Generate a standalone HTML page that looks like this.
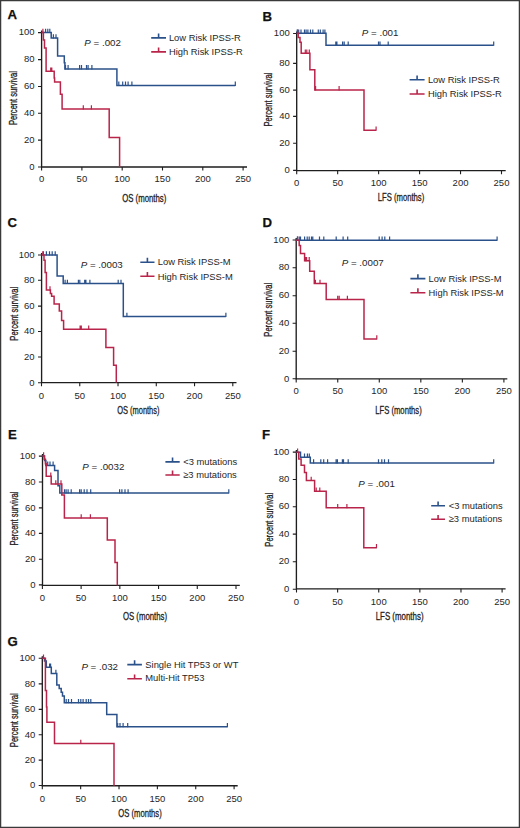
<!DOCTYPE html>
<html><head><meta charset="utf-8"><style>
html,body{margin:0;padding:0;background:#fff;}
body{width:520px;height:828px;overflow:hidden;position:relative;}
svg{position:absolute;left:0;top:0;font-family:"Liberation Sans", sans-serif;}
</style></head><body>
<svg width="520" height="828" viewBox="0 0 520 828">
<rect x="0" y="0" width="520" height="828" fill="#fff"/>
<path d="M0.6 0V828 M519.4 0V828 M0 0.6H520 M0 827.4H520" stroke="#3a3a3a" stroke-width="1.3" fill="none"/>
<text transform="translate(7.4,19.2)" font-size="13.2" fill="#111" font-weight="bold" stroke="#111" stroke-width="0.25">A</text>
<path d="M41.6 30.6V167.6 M41 167H247" stroke="#1e1e1e" stroke-width="1.35" fill="none"/>
<path d="M38 167H41.6M38 140.1H41.6M38 113.3H41.6M38 86.5H41.6M38 59.6H41.6M38 32.6H41.6M41.6 167V170.6M81.9 167V170.6M122.2 167V170.6M162.5 167V170.6M202.8 167V170.6M243.1 167V170.6" stroke="#1e1e1e" stroke-width="1.1" fill="none"/>
<text transform="translate(34.6,169.7) scale(1,1.04)" font-size="9.5" text-anchor="end" fill="#262626">0</text>
<text transform="translate(34.6,142.8) scale(1,1.04)" font-size="9.5" text-anchor="end" fill="#262626">20</text>
<text transform="translate(34.6,116) scale(1,1.04)" font-size="9.5" text-anchor="end" fill="#262626">40</text>
<text transform="translate(34.6,89.2) scale(1,1.04)" font-size="9.5" text-anchor="end" fill="#262626">60</text>
<text transform="translate(34.6,62.3) scale(1,1.04)" font-size="9.5" text-anchor="end" fill="#262626">80</text>
<text transform="translate(34.6,35.3) scale(1,1.04)" font-size="9.5" text-anchor="end" fill="#262626">100</text>
<text transform="translate(41.6,182.3) scale(1,1.04)" font-size="9.5" text-anchor="middle" fill="#262626">0</text>
<text transform="translate(81.9,182.3) scale(1,1.04)" font-size="9.5" text-anchor="middle" fill="#262626">50</text>
<text transform="translate(122.2,182.3) scale(1,1.04)" font-size="9.5" text-anchor="middle" fill="#262626">100</text>
<text transform="translate(162.5,182.3) scale(1,1.04)" font-size="9.5" text-anchor="middle" fill="#262626">150</text>
<text transform="translate(202.8,182.3) scale(1,1.04)" font-size="9.5" text-anchor="middle" fill="#262626">200</text>
<text transform="translate(243.1,182.3) scale(1,1.04)" font-size="9.5" text-anchor="middle" fill="#262626">250</text>
<text transform="translate(144.2,201.9) scale(0.69,1)" font-size="11.3" text-anchor="middle" fill="#222" stroke="#222" stroke-width="0.3">OS (months)</text>
<text transform="translate(16.9,98) rotate(-90) scale(0.69,1)" font-size="11" text-anchor="middle" fill="#222" stroke="#222" stroke-width="0.3">Percent survival</text>
<path d="M151.2 37.9H166 M158.6 37.9V33.5" stroke="#2b518a" stroke-width="1.6" fill="none"/>
<text transform="translate(168.9,40.7)" font-size="9.4" fill="#262626">Low Risk IPSS-R</text>
<path d="M151.2 51.9H166 M158.6 51.9V47.5" stroke="#b9244a" stroke-width="1.6" fill="none"/>
<text transform="translate(168.9,54.5)" font-size="9.4" fill="#262626">High Risk IPSS-R</text>
<text transform="translate(84.3,46.3)" font-size="9.75" fill="#262626"><tspan font-style="italic">P</tspan> = .002</text>
<path d="M41.6 32.6H51.2V38H57.6V56.1H64.3V62.7H64.9V68.9H116.9V85.4H235.3" stroke="#2b518a" stroke-width="1.5" fill="none"/>
<path d="M45.6 33.1V28.8M47.8 33.1V28.8M49.8 33.1V28.8M53.4 38.5V34.2M56 38.5V34.2M65.5 69.4V65.1M68.1 69.4V65.1M79.6 69.4V65.1M81.5 69.4V65.1M86.5 69.4V65.1M88.1 69.4V65.1M91.9 69.4V65.1M118.8 85.9V81.6M122.7 85.9V81.6M125.5 85.9V81.6M128.1 85.9V81.6M131.9 85.9V81.6M235.3 85.9V81.6" stroke="#2b518a" stroke-width="1.2" fill="none"/>
<path d="M41.6 32.6H43.4V40H44.5V48H46.1V71.2H54.2V78H54.6V81.9H60.4V94.2H62.1V109.1H109.2V137.6H119.6V167" stroke="#b9244a" stroke-width="1.5" fill="none"/>
<path d="M42.9 33.1V28.8M50.7 71.7V67.4M51.8 71.7V67.4M83.3 109.6V105.3M91.4 109.6V105.3" stroke="#b9244a" stroke-width="1.2" fill="none"/>
<text transform="translate(262.4,20.8)" font-size="13.2" fill="#111" font-weight="bold" stroke="#111" stroke-width="0.25">B</text>
<path d="M296.7 31.5V171.2 M296.1 170.6H505.7" stroke="#1e1e1e" stroke-width="1.35" fill="none"/>
<path d="M293.1 170.4H296.7M293.1 143.3H296.7M293.1 116.4H296.7M293.1 90.1H296.7M293.1 63.4H296.7M293.1 33.5H296.7M296.7 170.6V174.2M337.66 170.6V174.2M378.62 170.6V174.2M419.58 170.6V174.2M460.54 170.6V174.2M501.5 170.6V174.2" stroke="#1e1e1e" stroke-width="1.1" fill="none"/>
<text transform="translate(289.7,173.1) scale(1,1.04)" font-size="9.5" text-anchor="end" fill="#262626">0</text>
<text transform="translate(289.7,146) scale(1,1.04)" font-size="9.5" text-anchor="end" fill="#262626">20</text>
<text transform="translate(289.7,119.1) scale(1,1.04)" font-size="9.5" text-anchor="end" fill="#262626">40</text>
<text transform="translate(289.7,92.8) scale(1,1.04)" font-size="9.5" text-anchor="end" fill="#262626">60</text>
<text transform="translate(289.7,66.1) scale(1,1.04)" font-size="9.5" text-anchor="end" fill="#262626">80</text>
<text transform="translate(289.7,36.2) scale(1,1.04)" font-size="9.5" text-anchor="end" fill="#262626">100</text>
<text transform="translate(296.7,186.4) scale(1,1.04)" font-size="9.5" text-anchor="middle" fill="#262626">0</text>
<text transform="translate(337.66,186.4) scale(1,1.04)" font-size="9.5" text-anchor="middle" fill="#262626">50</text>
<text transform="translate(378.62,186.4) scale(1,1.04)" font-size="9.5" text-anchor="middle" fill="#262626">100</text>
<text transform="translate(419.58,186.4) scale(1,1.04)" font-size="9.5" text-anchor="middle" fill="#262626">150</text>
<text transform="translate(460.54,186.4) scale(1,1.04)" font-size="9.5" text-anchor="middle" fill="#262626">200</text>
<text transform="translate(501.5,186.4) scale(1,1.04)" font-size="9.5" text-anchor="middle" fill="#262626">250</text>
<text transform="translate(401,201.4) scale(0.68,1)" font-size="11.3" text-anchor="middle" fill="#222" stroke="#222" stroke-width="0.3">LFS (months)</text>
<text transform="translate(272.4,99.6) rotate(-90) scale(0.69,1)" font-size="11" text-anchor="middle" fill="#222" stroke="#222" stroke-width="0.3">Percent survival</text>
<path d="M409.6 79.8H424.6 M417.1 79.8V75.4" stroke="#2b518a" stroke-width="1.6" fill="none"/>
<text transform="translate(427.9,82.7)" font-size="9.4" fill="#262626">Low Risk IPSS-R</text>
<path d="M409.6 94H424.6 M417.1 94V89.6" stroke="#b9244a" stroke-width="1.6" fill="none"/>
<text transform="translate(427.9,96.9)" font-size="9.4" fill="#262626">High Risk IPSS-R</text>
<text transform="translate(361.8,36)" font-size="9.75" fill="#262626"><tspan font-style="italic">P</tspan> = .001</text>
<path d="M296.7 33.3H326V45.3H493.7" stroke="#2b518a" stroke-width="1.5" fill="none"/>
<path d="M297.2 33.8V29.5M298.7 33.8V29.5M301 33.8V29.5M304.5 33.8V29.5M306.1 33.8V29.5M307.9 33.8V29.5M310.5 33.8V29.5M312.8 33.8V29.5M318.3 33.8V29.5M320.3 33.8V29.5M323.1 33.8V29.5M324.9 33.8V29.5M335.8 45.8V41.5M336.9 45.8V41.5M342.6 45.8V41.5M344.2 45.8V41.5M348.2 45.8V41.5M378.5 45.8V41.5M380 45.8V41.5M388.2 45.8V41.5M493.7 45.8V41.5" stroke="#2b518a" stroke-width="1.2" fill="none"/>
<path d="M296.7 33.3H298.2V37.5H300V42.3H301.2V53.3H309.9V69.8H314.8V89.9H364V130.2H376.1" stroke="#b9244a" stroke-width="1.5" fill="none"/>
<path d="M297.6 33.8V29.5M305.3 53.8V49.5M306.8 53.8V49.5M309.3 53.8V49.5M315.6 90.4V86.1M339.1 90.4V86.1M376.1 130.7V126.4" stroke="#b9244a" stroke-width="1.2" fill="none"/>
<text transform="translate(7.6,227.1)" font-size="13.2" fill="#111" font-weight="bold" stroke="#111" stroke-width="0.25">C</text>
<path d="M41.6 253V383.2 M41 382.6H236.5" stroke="#1e1e1e" stroke-width="1.35" fill="none"/>
<path d="M38 382.8H41.6M38 357H41.6M38 331.5H41.6M38 306.1H41.6M38 280.3H41.6M38 255H41.6M41.5 382.6V386.2M79.76 382.6V386.2M118.02 382.6V386.2M156.28 382.6V386.2M194.54 382.6V386.2M232.8 382.6V386.2" stroke="#1e1e1e" stroke-width="1.1" fill="none"/>
<text transform="translate(34.6,385.5) scale(1,1.04)" font-size="9.5" text-anchor="end" fill="#262626">0</text>
<text transform="translate(34.6,359.7) scale(1,1.04)" font-size="9.5" text-anchor="end" fill="#262626">20</text>
<text transform="translate(34.6,334.2) scale(1,1.04)" font-size="9.5" text-anchor="end" fill="#262626">40</text>
<text transform="translate(34.6,308.8) scale(1,1.04)" font-size="9.5" text-anchor="end" fill="#262626">60</text>
<text transform="translate(34.6,283) scale(1,1.04)" font-size="9.5" text-anchor="end" fill="#262626">80</text>
<text transform="translate(34.6,257.7) scale(1,1.04)" font-size="9.5" text-anchor="end" fill="#262626">100</text>
<text transform="translate(41.5,398.6) scale(1,1.04)" font-size="9.5" text-anchor="middle" fill="#262626">0</text>
<text transform="translate(79.76,398.6) scale(1,1.04)" font-size="9.5" text-anchor="middle" fill="#262626">50</text>
<text transform="translate(118.02,398.6) scale(1,1.04)" font-size="9.5" text-anchor="middle" fill="#262626">100</text>
<text transform="translate(156.28,398.6) scale(1,1.04)" font-size="9.5" text-anchor="middle" fill="#262626">150</text>
<text transform="translate(194.54,398.6) scale(1,1.04)" font-size="9.5" text-anchor="middle" fill="#262626">200</text>
<text transform="translate(232.8,398.6) scale(1,1.04)" font-size="9.5" text-anchor="middle" fill="#262626">250</text>
<text transform="translate(138.35,413.7) scale(0.66,1)" font-size="11.3" text-anchor="middle" fill="#222" stroke="#222" stroke-width="0.3">OS (months)</text>
<text transform="translate(17.9,313.7) rotate(-90) scale(0.69,1)" font-size="11" text-anchor="middle" fill="#222" stroke="#222" stroke-width="0.3">Percent survival</text>
<path d="M140.3 262.2H154.5 M147.4 262.2V257.8" stroke="#2b518a" stroke-width="1.6" fill="none"/>
<text transform="translate(157.7,265.1)" font-size="9.4" fill="#262626">Low Risk IPSS-M</text>
<path d="M140.3 276.3H154.5 M147.4 276.3V271.9" stroke="#b9244a" stroke-width="1.6" fill="none"/>
<text transform="translate(157.7,279.5)" font-size="9.4" fill="#262626">High Risk IPSS-M</text>
<text transform="translate(80.7,268.2)" font-size="9.75" fill="#262626"><tspan font-style="italic">P</tspan> = .0003</text>
<path d="M41.6 255.1H57.1V276.1H63.2V283.5H123.3V316.6H225.9" stroke="#2b518a" stroke-width="1.5" fill="none"/>
<path d="M43.4 255.6V251.3M46.4 255.6V251.3M49.5 255.6V251.3M52.2 255.6V251.3M55.2 255.6V251.3M65.1 284V279.7M67.4 284V279.7M78.4 284V279.7M79.8 284V279.7M84.7 284V279.7M85.9 284V279.7M89.9 284V279.7M118.2 284V279.7M121 284V279.7M126.9 317.1V312.8M225.9 317.1V312.8" stroke="#2b518a" stroke-width="1.2" fill="none"/>
<path d="M41.6 255.1H44V260.3H45.1V272.6H46.4V290.1H50.4V293.5H51.6V296.3H54.1V304H59.3V311.1H61.6V320.4H63.6V329.3H105.9V347.6H113.6V365.3H116.3V382.6" stroke="#b9244a" stroke-width="1.5" fill="none"/>
<path d="M42.8 255.6V251.3M50 290.6V286.3M80.1 329.8V325.5M81.3 329.8V325.5M88.7 329.8V325.5" stroke="#b9244a" stroke-width="1.2" fill="none"/>
<text transform="translate(262.4,227.1)" font-size="13.2" fill="#111" font-weight="bold" stroke="#111" stroke-width="0.25">D</text>
<path d="M296.2 238V379.5 M295.6 378.9H507.3" stroke="#1e1e1e" stroke-width="1.35" fill="none"/>
<path d="M292.6 378.8H296.2M292.6 351.2H296.2M292.6 323.3H296.2M292.6 295.7H296.2M292.6 267.7H296.2M292.6 240H296.2M296.2 378.9V382.5M337.74 378.9V382.5M379.28 378.9V382.5M420.82 378.9V382.5M462.36 378.9V382.5M503.9 378.9V382.5" stroke="#1e1e1e" stroke-width="1.1" fill="none"/>
<text transform="translate(289.2,381.5) scale(1,1.04)" font-size="9.5" text-anchor="end" fill="#262626">0</text>
<text transform="translate(289.2,353.9) scale(1,1.04)" font-size="9.5" text-anchor="end" fill="#262626">20</text>
<text transform="translate(289.2,326) scale(1,1.04)" font-size="9.5" text-anchor="end" fill="#262626">40</text>
<text transform="translate(289.2,298.4) scale(1,1.04)" font-size="9.5" text-anchor="end" fill="#262626">60</text>
<text transform="translate(289.2,270.4) scale(1,1.04)" font-size="9.5" text-anchor="end" fill="#262626">80</text>
<text transform="translate(289.2,242.7) scale(1,1.04)" font-size="9.5" text-anchor="end" fill="#262626">100</text>
<text transform="translate(296.2,394.4) scale(1,1.04)" font-size="9.5" text-anchor="middle" fill="#262626">0</text>
<text transform="translate(337.74,394.4) scale(1,1.04)" font-size="9.5" text-anchor="middle" fill="#262626">50</text>
<text transform="translate(379.28,394.4) scale(1,1.04)" font-size="9.5" text-anchor="middle" fill="#262626">100</text>
<text transform="translate(420.82,394.4) scale(1,1.04)" font-size="9.5" text-anchor="middle" fill="#262626">150</text>
<text transform="translate(462.36,394.4) scale(1,1.04)" font-size="9.5" text-anchor="middle" fill="#262626">200</text>
<text transform="translate(503.9,394.4) scale(1,1.04)" font-size="9.5" text-anchor="middle" fill="#262626">250</text>
<text transform="translate(398.45,413.6) scale(0.68,1)" font-size="11.3" text-anchor="middle" fill="#222" stroke="#222" stroke-width="0.3">LFS (months)</text>
<text transform="translate(272.2,309.7) rotate(-90) scale(0.69,1)" font-size="11" text-anchor="middle" fill="#222" stroke="#222" stroke-width="0.3">Percent survival</text>
<path d="M410.4 278.6H425.4 M417.9 278.6V274.2" stroke="#2b518a" stroke-width="1.6" fill="none"/>
<text transform="translate(428.6,281.9)" font-size="9.4" fill="#262626">Low Risk IPSS-M</text>
<path d="M410.4 292.7H425.4 M417.9 292.7V288.3" stroke="#b9244a" stroke-width="1.6" fill="none"/>
<text transform="translate(428.6,295.8)" font-size="9.4" fill="#262626">High Risk IPSS-M</text>
<text transform="translate(341.7,265.7)" font-size="9.75" fill="#262626"><tspan font-style="italic">P</tspan> = .0007</text>
<path d="M296.2 240.3H497.1" stroke="#2b518a" stroke-width="1.5" fill="none"/>
<path d="M297.4 240.8V236.5M299.2 240.8V236.5M300.5 240.8V236.5M304.6 240.8V236.5M307.2 240.8V236.5M309.2 240.8V236.5M311.5 240.8V236.5M312.8 240.8V236.5M319.5 240.8V236.5M323.8 240.8V236.5M336.2 240.8V236.5M343.1 240.8V236.5M347.7 240.8V236.5M379.2 240.8V236.5M382.1 240.8V236.5M384.8 240.8V236.5M389.6 240.8V236.5M497.1 240.8V236.5" stroke="#2b518a" stroke-width="1.2" fill="none"/>
<path d="M296.2 240.3H299.2V245.4H300.5V253.4H304.6V260.8H309.7V271.2H314.3V283.5H326.2V299.5H364V339.1H376.8" stroke="#b9244a" stroke-width="1.5" fill="none"/>
<path d="M297.6 240.8V236.5M305.4 261.3V257M306.6 261.3V257M309.2 261.3V257M315.4 284V279.7M320 284V279.7M337.7 300V295.7M339.2 300V295.7M347.4 300V295.7M376.8 339.6V335.3" stroke="#b9244a" stroke-width="1.2" fill="none"/>
<text transform="translate(8,439.4)" font-size="13.2" fill="#111" font-weight="bold" stroke="#111" stroke-width="0.25">E</text>
<path d="M42.5 454.1V586 M41.9 585.4H239.8" stroke="#1e1e1e" stroke-width="1.35" fill="none"/>
<path d="M38.9 584.9H42.5M38.9 559.3H42.5M38.9 533.4H42.5M38.9 507.9H42.5M38.9 482H42.5M38.9 456.1H42.5M42.4 585.4V589M81.12 585.4V589M119.84 585.4V589M158.56 585.4V589M197.28 585.4V589M236 585.4V589" stroke="#1e1e1e" stroke-width="1.1" fill="none"/>
<text transform="translate(35.5,587.6) scale(1,1.04)" font-size="9.5" text-anchor="end" fill="#262626">0</text>
<text transform="translate(35.5,562) scale(1,1.04)" font-size="9.5" text-anchor="end" fill="#262626">20</text>
<text transform="translate(35.5,536.1) scale(1,1.04)" font-size="9.5" text-anchor="end" fill="#262626">40</text>
<text transform="translate(35.5,510.6) scale(1,1.04)" font-size="9.5" text-anchor="end" fill="#262626">60</text>
<text transform="translate(35.5,484.7) scale(1,1.04)" font-size="9.5" text-anchor="end" fill="#262626">80</text>
<text transform="translate(35.5,458.8) scale(1,1.04)" font-size="9.5" text-anchor="end" fill="#262626">100</text>
<text transform="translate(42.4,600.9) scale(1,1.04)" font-size="9.5" text-anchor="middle" fill="#262626">0</text>
<text transform="translate(81.12,600.9) scale(1,1.04)" font-size="9.5" text-anchor="middle" fill="#262626">50</text>
<text transform="translate(119.84,600.9) scale(1,1.04)" font-size="9.5" text-anchor="middle" fill="#262626">100</text>
<text transform="translate(158.56,600.9) scale(1,1.04)" font-size="9.5" text-anchor="middle" fill="#262626">150</text>
<text transform="translate(197.28,600.9) scale(1,1.04)" font-size="9.5" text-anchor="middle" fill="#262626">200</text>
<text transform="translate(236,600.9) scale(1,1.04)" font-size="9.5" text-anchor="middle" fill="#262626">250</text>
<text transform="translate(145,619.7) scale(0.69,1)" font-size="11.3" text-anchor="middle" fill="#222" stroke="#222" stroke-width="0.3">OS (months)</text>
<text transform="translate(17.9,518.5) rotate(-90) scale(0.69,1)" font-size="11" text-anchor="middle" fill="#222" stroke="#222" stroke-width="0.3">Percent survival</text>
<path d="M165.4 461.9H179.7 M172.55 461.9V457.5" stroke="#2b518a" stroke-width="1.6" fill="none"/>
<text transform="translate(183.2,464.5)" font-size="9.4" fill="#262626">&lt;3 mutations</text>
<path d="M165.4 475H179.7 M172.55 475V470.6" stroke="#b9244a" stroke-width="1.6" fill="none"/>
<text transform="translate(183.2,478.1)" font-size="9.4" fill="#262626">≥3 mutations</text>
<text transform="translate(82.3,469.8)" font-size="9.75" fill="#262626"><tspan font-style="italic">P</tspan> = .0032</text>
<path d="M42.5 456.1H44.6V460.5H45.8V465.4H54.6V470.4H58V485.8H59.8V493H228.8" stroke="#2b518a" stroke-width="1.5" fill="none"/>
<path d="M47.7 465.9V461.6M50 465.9V461.6M53.1 465.9V461.6M64.5 493.5V489.2M66.1 493.5V489.2M68.1 493.5V489.2M71.2 493.5V489.2M79.6 493.5V489.2M81.2 493.5V489.2M84.2 493.5V489.2M87 493.5V489.2M90.7 493.5V489.2M119.6 493.5V489.2M121.9 493.5V489.2M125 493.5V489.2M128.1 493.5V489.2M228.8 493.5V489.2" stroke="#2b518a" stroke-width="1.2" fill="none"/>
<path d="M42.5 456.1H44.2V459.2H45.4V463.8H46.2V476.2H51.2V484.1H61.8V495H64.4V518H107.3V540H115V562.6H117.3V585.4" stroke="#b9244a" stroke-width="1.5" fill="none"/>
<path d="M43.6 456.6V452.3M50.8 476.7V472.4M55.8 484.6V480.3M61 484.6V480.3M81.2 518.5V514.2M90.4 518.5V514.2" stroke="#b9244a" stroke-width="1.2" fill="none"/>
<text transform="translate(262.1,439)" font-size="13.2" fill="#111" font-weight="bold" stroke="#111" stroke-width="0.25">F</text>
<path d="M296.4 450.1V589.4 M295.8 588.8H505.6" stroke="#1e1e1e" stroke-width="1.35" fill="none"/>
<path d="M292.8 589.2H296.4M292.8 561.7H296.4M292.8 534.1H296.4M292.8 506.7H296.4M292.8 479.5H296.4M292.8 452.1H296.4M296.5 588.8V592.4M337.62 588.8V592.4M378.74 588.8V592.4M419.86 588.8V592.4M460.98 588.8V592.4M502.1 588.8V592.4" stroke="#1e1e1e" stroke-width="1.1" fill="none"/>
<text transform="translate(289.4,591.9) scale(1,1.04)" font-size="9.5" text-anchor="end" fill="#262626">0</text>
<text transform="translate(289.4,564.4) scale(1,1.04)" font-size="9.5" text-anchor="end" fill="#262626">20</text>
<text transform="translate(289.4,536.8) scale(1,1.04)" font-size="9.5" text-anchor="end" fill="#262626">40</text>
<text transform="translate(289.4,509.4) scale(1,1.04)" font-size="9.5" text-anchor="end" fill="#262626">60</text>
<text transform="translate(289.4,482.2) scale(1,1.04)" font-size="9.5" text-anchor="end" fill="#262626">80</text>
<text transform="translate(289.4,454.8) scale(1,1.04)" font-size="9.5" text-anchor="end" fill="#262626">100</text>
<text transform="translate(296.5,604.7) scale(1,1.04)" font-size="9.5" text-anchor="middle" fill="#262626">0</text>
<text transform="translate(337.62,604.7) scale(1,1.04)" font-size="9.5" text-anchor="middle" fill="#262626">50</text>
<text transform="translate(378.74,604.7) scale(1,1.04)" font-size="9.5" text-anchor="middle" fill="#262626">100</text>
<text transform="translate(419.86,604.7) scale(1,1.04)" font-size="9.5" text-anchor="middle" fill="#262626">150</text>
<text transform="translate(460.98,604.7) scale(1,1.04)" font-size="9.5" text-anchor="middle" fill="#262626">200</text>
<text transform="translate(502.1,604.7) scale(1,1.04)" font-size="9.5" text-anchor="middle" fill="#262626">250</text>
<text transform="translate(399.6,619.7) scale(0.7,1)" font-size="11.3" text-anchor="middle" fill="#222" stroke="#222" stroke-width="0.3">LFS (months)</text>
<text transform="translate(272.8,519.7) rotate(-90) scale(0.69,1)" font-size="11" text-anchor="middle" fill="#222" stroke="#222" stroke-width="0.3">Percent survival</text>
<path d="M431.2 505.8H445 M438.1 505.8V501.4" stroke="#2b518a" stroke-width="1.6" fill="none"/>
<text transform="translate(448.7,508.5)" font-size="9.4" fill="#262626">&lt;3 mutations</text>
<path d="M431.2 519.3H445 M438.1 519.3V514.9" stroke="#b9244a" stroke-width="1.6" fill="none"/>
<text transform="translate(448.7,522.4)" font-size="9.4" fill="#262626">≥3 mutations</text>
<text transform="translate(358.2,487.3)" font-size="9.75" fill="#262626"><tspan font-style="italic">P</tspan> = .001</text>
<path d="M296.4 452.2H300.5V457.3H310.3V463H493.7" stroke="#2b518a" stroke-width="1.5" fill="none"/>
<path d="M304.5 457.8V453.5M307.4 457.8V453.5M309.3 457.8V453.5M313.6 463.5V459.2M320.8 463.5V459.2M323.7 463.5V459.2M327.6 463.5V459.2M336.1 463.5V459.2M337.4 463.5V459.2M342.4 463.5V459.2M343.5 463.5V459.2M348.2 463.5V459.2M378.5 463.5V459.2M381.8 463.5V459.2M384.5 463.5V459.2M388.5 463.5V459.2M493.7 463.5V459.2" stroke="#2b518a" stroke-width="1.2" fill="none"/>
<path d="M296.4 452.2H298.7V459H301.1V465.2H304.5V472.4H306.4V480.6H314.6V491.3H326.2V507.7H363.8V547.7H376.5" stroke="#b9244a" stroke-width="1.5" fill="none"/>
<path d="M297.6 452.7V448.4M311.2 481.1V476.8M316.2 491.8V487.5M319.8 491.8V487.5M337.7 508.2V503.9M346.9 508.2V503.9M376.5 548.2V543.9" stroke="#b9244a" stroke-width="1.2" fill="none"/>
<text transform="translate(7.6,645.6)" font-size="13.2" fill="#111" font-weight="bold" stroke="#111" stroke-width="0.25">G</text>
<path d="M42.3 656.2V786.3 M41.7 785.7H237.7" stroke="#1e1e1e" stroke-width="1.35" fill="none"/>
<path d="M38.7 785.5H42.3M38.7 760.1H42.3M38.7 734.8H42.3M38.7 709.4H42.3M38.7 683.9H42.3M38.7 658.2H42.3M42.3 785.7V789.3M80.66 785.7V789.3M119.02 785.7V789.3M157.38 785.7V789.3M195.74 785.7V789.3M234.1 785.7V789.3" stroke="#1e1e1e" stroke-width="1.1" fill="none"/>
<text transform="translate(35.3,788.2) scale(1,1.04)" font-size="9.5" text-anchor="end" fill="#262626">0</text>
<text transform="translate(35.3,762.8) scale(1,1.04)" font-size="9.5" text-anchor="end" fill="#262626">20</text>
<text transform="translate(35.3,737.5) scale(1,1.04)" font-size="9.5" text-anchor="end" fill="#262626">40</text>
<text transform="translate(35.3,712.1) scale(1,1.04)" font-size="9.5" text-anchor="end" fill="#262626">60</text>
<text transform="translate(35.3,686.6) scale(1,1.04)" font-size="9.5" text-anchor="end" fill="#262626">80</text>
<text transform="translate(35.3,660.9) scale(1,1.04)" font-size="9.5" text-anchor="end" fill="#262626">100</text>
<text transform="translate(42.3,801.8) scale(1,1.04)" font-size="9.5" text-anchor="middle" fill="#262626">0</text>
<text transform="translate(80.66,801.8) scale(1,1.04)" font-size="9.5" text-anchor="middle" fill="#262626">50</text>
<text transform="translate(119.02,801.8) scale(1,1.04)" font-size="9.5" text-anchor="middle" fill="#262626">100</text>
<text transform="translate(157.38,801.8) scale(1,1.04)" font-size="9.5" text-anchor="middle" fill="#262626">150</text>
<text transform="translate(195.74,801.8) scale(1,1.04)" font-size="9.5" text-anchor="middle" fill="#262626">200</text>
<text transform="translate(234.1,801.8) scale(1,1.04)" font-size="9.5" text-anchor="middle" fill="#262626">250</text>
<text transform="translate(140,817.1) scale(0.68,1)" font-size="11.3" text-anchor="middle" fill="#222" stroke="#222" stroke-width="0.3">OS (months)</text>
<text transform="translate(18.1,720.2) rotate(-90) scale(0.69,1)" font-size="11" text-anchor="middle" fill="#222" stroke="#222" stroke-width="0.3">Percent survival</text>
<path d="M127.3 664.6H141.9 M134.6 664.6V660.2" stroke="#2b518a" stroke-width="1.6" fill="none"/>
<text transform="translate(145.3,667.7)" font-size="9.4" fill="#262626">Single Hit TP53 or WT</text>
<path d="M127.3 678.8H141.9 M134.6 678.8V674.4" stroke="#b9244a" stroke-width="1.6" fill="none"/>
<text transform="translate(145.3,681.4)" font-size="9.4" fill="#262626">Multi-Hit TP53</text>
<text transform="translate(81.4,670)" font-size="9.75" fill="#262626"><tspan font-style="italic">P</tspan> = .032</text>
<path d="M42.3 658.2H44.5V661H46.3V667.3H51.3V673.6H56.8V685H59.2V688.5H61.2V692.3H62.5V696H64.3V702.7H106.7V714.5H116.9V726.8H227.4" stroke="#2b518a" stroke-width="1.5" fill="none"/>
<path d="M49.6 667.8V663.5M50.6 667.8V663.5M55.9 674.1V669.8M66.2 703.2V698.9M68.5 703.2V698.9M71.5 703.2V698.9M78.5 703.2V698.9M80.8 703.2V698.9M83.1 703.2V698.9M86.2 703.2V698.9M88.5 703.2V698.9M90.8 703.2V698.9M117.7 727.3V723M120 727.3V723M123.1 727.3V723M127.7 727.3V723M227.4 727.3V723" stroke="#2b518a" stroke-width="1.2" fill="none"/>
<path d="M42.3 658.2H45.4V690.6H46.5V707H46.9V722.3H54.5V743.5H114V785.7" stroke="#b9244a" stroke-width="1.5" fill="none"/>
<path d="M43.5 658.7V654.4M80.8 744V739.7" stroke="#b9244a" stroke-width="1.2" fill="none"/>
</svg></body></html>
